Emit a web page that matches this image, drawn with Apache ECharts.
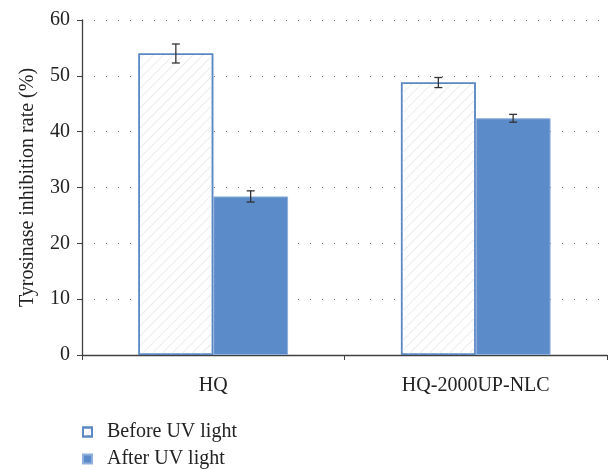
<!DOCTYPE html>
<html><head><meta charset="utf-8">
<script src="https://cdn.jsdelivr.net/npm/echarts@6/dist/echarts.min.js"></script>
<style>html,body{margin:0;padding:0;background:#fff}#c{width:610px;height:470px}</style>
</head><body><div id="c"></div>
<script>
var categories = ['HQ', 'HQ-2000UP-NLC'];
var beforeValues = [54.0, 48.8];
var beforeErrors = [1.7, 0.9];
var afterValues = [28.4, 42.4];
var afterErrors = [1.0, 0.7];
var yTicks = [0, 10, 20, 30, 40, 50, 60];

var FONT = 'Liberation Serif';
var chart = echarts.init(document.getElementById('c'), null, {renderer: 'canvas'});

function errSeries(vals, errs, idx) {
  var data = vals.map(function (v, i) { return [i, v - errs[i], v + errs[i]]; });
  return {
    type: 'custom',
    z: 10,
    silent: true,
    renderItem: function (params, api) {
      var ci = api.value(0);
      var lo = api.coord([ci, api.value(1)]);
      var hi = api.coord([ci, api.value(2)]);
      var band = api.size([1, 0])[0];
      var barW = band * 0.57 / 2;
      var x = lo[0] + (idx === 0 ? -barW / 2 : barW / 2);
      var cap = 4;
      var st = {stroke: '#333333', lineWidth: 1.3};
      return {type: 'group', children: [
        {type: 'line', shape: {x1: x, y1: lo[1], x2: x, y2: hi[1]}, style: st},
        {type: 'line', shape: {x1: x - cap, y1: lo[1], x2: x + cap, y2: lo[1]}, style: st},
        {type: 'line', shape: {x1: x - cap, y1: hi[1], x2: x + cap, y2: hi[1]}, style: st}
      ]};
    },
    data: data
  };
}

function legendFor(name, top) {
  return {
    orient: 'vertical', left: 82, top: top, padding: 0,
    itemWidth: 9, itemHeight: 9,
    icon: 'rect',
    data: [name],
    textStyle: {fontFamily: FONT, fontSize: 20, color: '#222', padding: [0, 0, 0, 10]}
  };
}

chart.setOption({
  animation: false,
  textStyle: {fontFamily: FONT},
  grid: {left: 82, right: 3, top: 20, bottom: 115},
  legend: [legendFor('Before UV light', 422), legendFor('After UV light', 449)],
  xAxis: {
    type: 'category', data: categories,
    axisLine: {lineStyle: {color: '#404040', width: 1.3}},
    axisTick: {show: true, length: 5, lineStyle: {color: '#404040'}},
    axisLabel: {fontFamily: FONT, fontSize: 20, color: '#222', margin: 21}
  },
  yAxis: {
    type: 'value', min: yTicks[0], max: yTicks[yTicks.length - 1], interval: 10,
    name: 'Tyrosinase inhibition rate (%)',
    nameLocation: 'middle', nameGap: 44, nameRotate: 90,
    nameTextStyle: {fontFamily: FONT, fontSize: 20, color: '#222'},
    axisLine: {show: true, lineStyle: {color: '#404040', width: 1.3}},
    axisTick: {show: true, length: 5, lineStyle: {color: '#404040'}},
    axisLabel: {fontFamily: FONT, fontSize: 20, color: '#222', margin: 12},
    splitLine: {show: true, lineStyle: {color: '#777', type: [1, 11], width: 1}}
  },
  series: [
    {
      name: 'Before UV light', type: 'bar', data: beforeValues,
      barGap: '0%', barCategoryGap: '43%',
      itemStyle: {
        color: '#ffffff', borderColor: '#5b87c4', borderWidth: 1.5,
        decal: {symbol: 'rect', dashArrayX: [1, 0], dashArrayY: [1, 6], rotation: -Math.PI / 4, color: '#ececec', symbolSize: 1}
      }
    },
    {
      name: 'After UV light', type: 'bar', data: afterValues,
      barGap: '0%', barCategoryGap: '43%',
      itemStyle: {color: '#5b8bc8', borderColor: '#8fb0dc', borderWidth: 1}
    },
    errSeries(beforeValues, beforeErrors, 0),
    errSeries(afterValues, afterErrors, 1)
  ]
});
</script></body></html>
